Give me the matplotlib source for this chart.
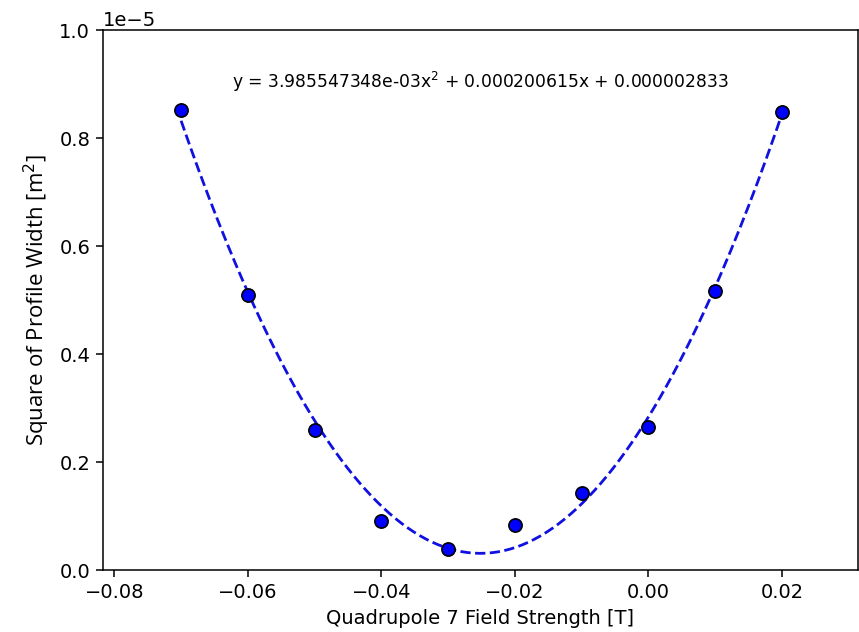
import numpy as np
import matplotlib
matplotlib.use("Agg")
import matplotlib.pyplot as plt

# Data
field_strength = [-0.07, -0.06, -0.05, -0.04, -0.03, -0.02, -0.01, 0.00, 0.01, 0.02]
width_sq = [0.852e-5, 0.510e-5, 0.259e-5, 0.090e-5, 0.039e-5, 0.083e-5, 0.143e-5, 0.264e-5, 0.516e-5, 0.848e-5]
fit_coeffs = [3.985547348e-03, 0.000200615, 0.000002833]
fit_label = r"y = 3.985547348e-03x$^2$ + 0.000200615x + 0.000002833"

fig = plt.figure(figsize=(8.59, 6.32), dpi=100)
ax = fig.add_axes([103/859, 1 - 570/632, (858-103)/859, (570-30)/632])

xs = np.linspace(min(field_strength), max(field_strength), 200)
ax.plot(xs, np.polyval(fit_coeffs, xs), linestyle='--', color='#1010e0', linewidth=2.0,
        dashes=(3.7, 1.6), zorder=2)
ax.plot(field_strength, width_sq, 'o', markerfacecolor='#0000ff', markeredgecolor='black',
        markeredgewidth=1.2, markersize=9.5, zorder=3)

ax.set_xlim(-0.0817, 0.0314)
ax.set_ylim(0, 1.0e-5)
ax.set_xticks([-0.08, -0.06, -0.04, -0.02, 0.00, 0.02])
ax.set_yticks([0, 0.2e-5, 0.4e-5, 0.6e-5, 0.8e-5, 1.0e-5])

ax.text(-0.0252, 0.903e-5, fit_label, ha='center', va='center', fontsize=12.3)

ax.set_xlabel("Quadrupole 7 Field Strength [T]", fontsize=14, labelpad=5)
ax.set_ylabel(r"Square of Profile Width [m$^2$]", fontsize=16, family='Open Sans', labelpad=5)
ax.tick_params(labelsize=14, length=4.7, width=1.1, pad=4.5)
for s in ax.spines.values():
    s.set_linewidth(1.1)
ax.yaxis.get_offset_text().set_fontsize(14)

fig.savefig("out.png", dpi=100)
